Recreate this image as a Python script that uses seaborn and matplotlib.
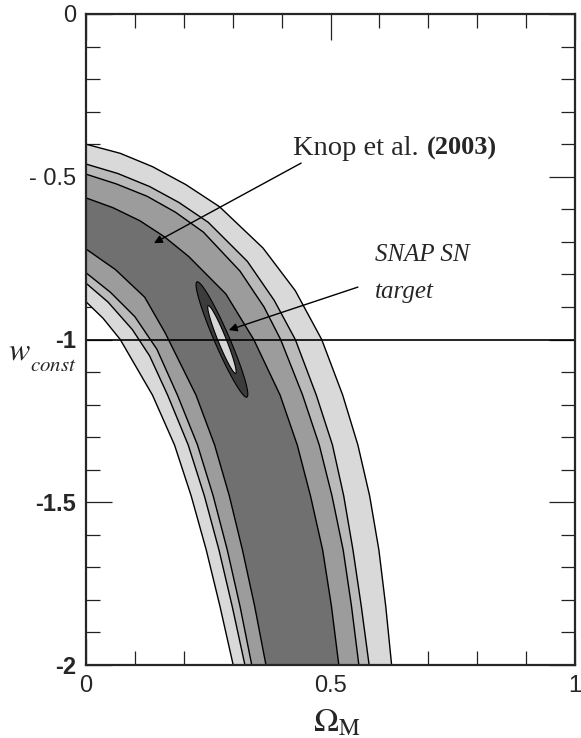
import numpy as np
import pandas as pd
import matplotlib.pyplot as plt
import seaborn as sns
from matplotlib.ticker import MultipleLocator

sns.set_style('ticks')
plt.rcParams['mathtext.fontset'] = 'stix'

# contour edges as (Omega_M, w) points,
# each one from where it leaves the y axis down to w = -2
# upper / right side of the band, outermost first
om_up1 = [0.000, 0.070, 0.136, 0.204, 0.273, 0.362, 0.428, 0.482, 0.525, 0.556, 0.580, 0.599, 0.613, 0.625]
w_up1 = [-0.400, -0.428, -0.469, -0.524, -0.592, -0.719, -0.850, -1.000, -1.171, -1.324, -1.480, -1.647, -1.820, -2.000]
om_up2 = [0.000, 0.065, 0.130, 0.190, 0.250, 0.330, 0.385, 0.428, 0.471, 0.504, 0.527, 0.546, 0.563, 0.579]
w_up2 = [-0.461, -0.490, -0.530, -0.579, -0.640, -0.760, -0.880, -1.000, -1.171, -1.324, -1.480, -1.647, -1.820, -2.000]
om_up3 = [0.000, 0.062, 0.125, 0.183, 0.240, 0.315, 0.364, 0.398, 0.443, 0.477, 0.503, 0.526, 0.543, 0.558]
w_up3 = [-0.492, -0.522, -0.560, -0.609, -0.670, -0.790, -0.900, -1.000, -1.171, -1.324, -1.480, -1.647, -1.820, -2.000]
om_up4 = [0.000, 0.055, 0.110, 0.160, 0.210, 0.286, 0.343, 0.397, 0.432, 0.459, 0.484, 0.502, 0.517]
w_up4 = [-0.565, -0.595, -0.635, -0.684, -0.745, -0.860, -1.000, -1.171, -1.324, -1.480, -1.647, -1.820, -2.000]

# lower / left side of the band, outermost first
om_lo1 = [0.000, 0.035, 0.070, 0.136, 0.181, 0.215, 0.246, 0.274, 0.301]
w_lo1 = [-0.884, -0.935, -1.000, -1.171, -1.324, -1.480, -1.647, -1.820, -2.000]
om_lo2 = [0.000, 0.045, 0.095, 0.130, 0.167, 0.209, 0.242, 0.272, 0.299, 0.325]
w_lo2 = [-0.827, -0.885, -0.970, -1.050, -1.171, -1.324, -1.480, -1.647, -1.820, -2.000]
om_lo3 = [0.000, 0.050, 0.100, 0.145, 0.187, 0.228, 0.260, 0.289, 0.315, 0.339]
w_lo3 = [-0.795, -0.855, -0.930, -1.030, -1.171, -1.324, -1.480, -1.647, -1.820, -2.000]
om_lo4 = [0.000, 0.060, 0.120, 0.162, 0.225, 0.263, 0.293, 0.320, 0.345, 0.368]
w_lo4 = [-0.722, -0.785, -0.870, -0.980, -1.171, -1.324, -1.480, -1.647, -1.820, -2.000]

band_colors = ['#d9d9d9', '#bababa', '#9c9c9c', '#707070']

# SNAP target ellipses: centre, half major axis, half minor axis (data units)
snap_center = [0.278, -1.0]
snap_outer_major = [0.051, -0.177]
snap_outer_minor = [0.0141, 0.0092]
snap_inner_major = [0.028, -0.104]
snap_inner_minor = [0.0077, 0.0050]

w_const = -1.0

xtick_vals = [0, 0.5, 1]
xtick_labels = ['0', '0.5', '1']
ytick_vals = [0, -0.5, -1, -1.5, -2]
ytick_labels = ['0', '- 0.5', '-1', '-1.5', '-2']
ytick_weights = ['normal', 'normal', 'bold', 'bold', 'bold']

fig = plt.figure(figsize=(5.81, 7.38), dpi=100)
ax = fig.add_axes([86/581, 1-665/738, 489/581, 651/738])

uppers = [(om_up1, w_up1), (om_up2, w_up2), (om_up3, w_up3), (om_up4, w_up4)]
lowers = [(om_lo1, w_lo1), (om_lo2, w_lo2), (om_lo3, w_lo3), (om_lo4, w_lo4)]

for (ou, wu), (ol, wl), c in zip(uppers, lowers, band_colors):
    ax.fill(np.r_[ou, ol[::-1]], np.r_[wu, wl[::-1]], color=c, lw=0, zorder=1)

rows = []
for i, (o, w) in enumerate(uppers + lowers):
    for a, b in zip(o, w):
        rows.append({'om': a, 'w': b, 'curve': i})
edges = pd.DataFrame(rows)
sns.lineplot(data=edges, x='om', y='w', units='curve', estimator=None, sort=False,
             color='black', lw=1.0, ax=ax, zorder=2)

t = np.linspace(0, 2*np.pi, 200)
for major, minor, c in [(snap_outer_major, snap_outer_minor, '#3c3c3c'),
                        (snap_inner_major, snap_inner_minor, '#d6d6d6')]:
    ex = snap_center[0] + major[0]*np.cos(t) + minor[0]*np.sin(t)
    ey = snap_center[1] + major[1]*np.cos(t) + minor[1]*np.sin(t)
    ax.fill(ex, ey, facecolor=c, edgecolor='black', lw=0.8, zorder=3)

ax.axhline(w_const, color='black', lw=1.2, zorder=4)

arrow = dict(arrowstyle='-|>', color='black', lw=1.0, mutation_scale=12, shrinkA=0, shrinkB=0)
ax.annotate('', xy=(0.139, -0.704), xytext=(0.440, -0.458), arrowprops=arrow, zorder=5)
ax.annotate('', xy=(0.292, -0.971), xytext=(0.556, -0.839), arrowprops=arrow, zorder=5)

ax.text(0.423, -0.433, 'Knop et al.', family='Liberation Serif', fontsize=20.5, va='baseline')
ax.text(0.697, -0.433, '(2003)', family='Liberation Serif', fontsize=19,
        fontweight='bold', va='baseline')
ax.text(0.591, -0.760, 'SNAP SN', family='Liberation Serif', style='italic',
        fontsize=18, va='baseline')
ax.text(0.591, -0.872, 'target', family='Liberation Serif', style='italic',
        fontsize=18, va='baseline')

ax.set_xlim(0, 1)
ax.set_ylim(-2, 0)
ax.set_xlabel('')
ax.set_ylabel('')
ax.set_xticks(xtick_vals)
ax.set_xticklabels(xtick_labels, family='Liberation Sans', fontsize=17)
ax.set_yticks(ytick_vals)
ax.set_yticklabels(ytick_labels, family='Liberation Sans', fontsize=17)
for lab, wt in zip(ax.get_yticklabels(), ytick_weights):
    lab.set_fontweight(wt)
ax.xaxis.set_minor_locator(MultipleLocator(0.1))
ax.yaxis.set_minor_locator(MultipleLocator(0.1))
ax.tick_params(which='both', direction='in', top=True, right=True, width=0.9, color='#222222')
ax.tick_params(which='major', length=19, pad=7)
ax.tick_params(which='minor', length=10)
for s in ax.spines.values():
    s.set_linewidth(1.6)
    s.set_zorder(6)

fig.text(337/581, 1-705/738, r'$\Omega_{\mathrm{M}}$', fontsize=24, ha='center', va='top')
# y label: big italic w with a lowered "const"
fig.text(8/581, 1-360/738, r'$w$', fontsize=23, ha='left', va='baseline')
fig.text(30/581, 1-371/738, r'$const$', fontsize=15, ha='left', va='baseline')

fig.savefig('out.png', dpi=100)
